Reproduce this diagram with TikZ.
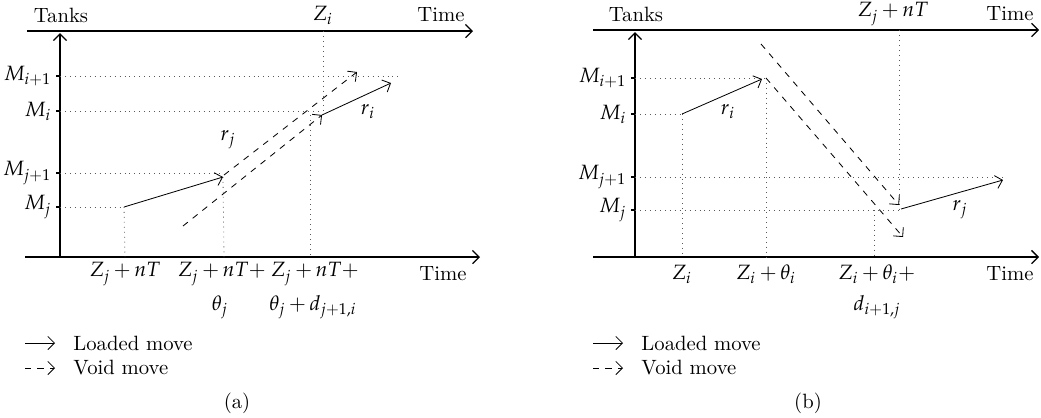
\documentclass[tikz,border=0pt]{standalone}
\usepackage{mathpazo}
\usetikzlibrary{positioning, arrows.meta}
\begin{document}
\begin{tikzpicture}[x=0.017cm, y=-0.017cm,
    >={Straight Barb[length=3.2pt, width=6.4pt]},
    axis/.style={->, semithick},
    guide/.style={dotted, gray!70!black},
    loaded/.style={->},
    void/.style={->, dashed},
    lbl/.style={inner sep=1pt},
    xlbl/.style={inner sep=1pt, execute at begin node={\medmuskip=3mu}},
    tick/.style={semithick}
]
\useasboundingbox (0,0) rectangle (1041,417);

% ---------- panel (a)
\coordinate (aTs) at (27,31);
\coordinate (aTe) at (473,31);
\coordinate (aBs) at (25,257);
\coordinate (aBe) at (480,257);
\coordinate (aO)  at (60,257);
\coordinate (aY)  at (60,33);
\draw[axis] (aTs) -- (aTe);
\draw[axis] (aBs) -- (aBe);
\draw[axis] (aO) -- (aY);

\node[lbl] (aTanks) at (61,15)  {Tanks};
\node[lbl] (aTimeT) at (441,15) {Time};
\node[lbl] (aZi)    at (323,15) {$Z_i$};
\node[lbl] (aTimeB) at (443,274) {Time};

\foreach \y/\lab/\nm in {76/M_{i+1}/aMa, 111/M_i/aMb, 173/M_{j+1}/aMc, 207/M_j/aMd}{
  \coordinate (\nm) at (60,\y);
  \draw[tick] (\nm) -- ++(-4,0) node[left, inner sep=2pt] (\nm-lab) {$\lab$};
}

\coordinate (aP1) at (124,207);
\coordinate (aP2) at (223,177);
\coordinate (aP3) at (322,115);
\coordinate (aP4) at (391,83);
\coordinate (aV1) at (183,226);
\coordinate (aV2) at (224,175);
\coordinate (aV3) at (357,72);

\coordinate (aG1) at (398,76);
\coordinate (aG2) at (322,111);
\coordinate (aG3) at (222,173);
\coordinate (aX1) at (125,257);
\coordinate (aX2) at (224,257);
\coordinate (aX3) at (310,257);
\coordinate (aX3t) at (310,115);
\coordinate (aX4) at (323,31);
\coordinate (aX4b) at (323,115);

\draw[guide] (aMa) -- (aG1);
\draw[guide] (aMb) -- (aG2);
\draw[guide] (aMc) -- (aG3);
\draw[guide] (aMd) -- (aP1);
\draw[guide] (aP1) -- (aX1);
\draw[guide] (aP2) -- (aX2);
\draw[guide] (aX3t) -- (aX3);
\draw[guide] (aX4) -- (aX4b);

\draw[loaded] (aP1) -- (aP2);
\draw[loaded] (aP3) -- (aP4);
\draw[void] (aV1) -- (aP3);
\draw[void] (aV2) -- (aV3);

\node[lbl] (aRj) at (228,140) {$r_j$};
\node[lbl] (aRi) at (368,112) {$r_i$};

\node[xlbl] (aZa)  at (125,274) {$Z_j + nT$};
\node[xlbl] (aZb)  at (222,274) {$Z_j + nT+$};
\node[xlbl] (aZbb) at (220,307) {$\theta_j$};
\node[xlbl] (aZc)  at (315,274) {$Z_j + nT+$};
\node[xlbl] (aZcc) at (313,307) {$\theta_j + d_{j+1,i}$};

\coordinate (aL1s) at (25,343);
\coordinate (aL1e) at (55,343);
\coordinate (aL2s) at (25,368);
\coordinate (aL2e) at (55,368);
\draw[loaded] (aL1s) -- (aL1e);
\draw[void] (aL2s) -- (aL2e);
\node[lbl, anchor=west] (aLoaded) at (71,343) {Loaded move};
\node[lbl, anchor=west] (aVoid)   at (71,368) {Void move};
\node[lbl] (aCap) at (237,403) {(a)};

% ---------- panel (b)
\coordinate (bTs) at (593,30);
\coordinate (bTe) at (1039,30);
\coordinate (bBs) at (593,257);
\coordinate (bBe) at (1039,257);
\coordinate (bO)  at (635,257);
\coordinate (bY)  at (635,32);
\draw[axis] (bTs) -- (bTe);
\draw[axis] (bBs) -- (bBe);
\draw[axis] (bO) -- (bY);

\node[lbl] (bTanks) at (636,14)  {Tanks};
\node[lbl] (bTimeT) at (1010,14) {Time};
\node[xlbl] (bZj)   at (893,14)  {$Z_j + nT$};
\node[lbl] (bTimeB) at (1010,274) {Time};

\foreach \y/\lab/\nm in {78/M_{i+1}/bMa, 114/M_i/bMb, 177/M_{j+1}/bMc, 210/M_j/bMd}{
  \coordinate (\nm) at (635,\y);
  \draw[tick] (\nm) -- ++(-4,0) node[left, inner sep=2pt] (\nm-lab) {$\lab$};
}

\coordinate (bP1) at (682,114);
\coordinate (bP2) at (762,79);
\coordinate (bP3) at (901,209);
\coordinate (bP4) at (1003,180);
\coordinate (bV1) at (761,44);
\coordinate (bV2) at (899,205);
\coordinate (bV3) at (766,78);
\coordinate (bV4) at (903,237);

\coordinate (bG1) at (765,78);
\coordinate (bG3) at (1003,177);
\coordinate (bX1) at (682,257);
\coordinate (bX2t) at (766,78);
\coordinate (bX2) at (766,257);
\coordinate (bX3t) at (874,210);
\coordinate (bX3) at (874,257);
\coordinate (bX4) at (899,30);
\coordinate (bX4b) at (899,210);

\draw[guide] (bMa) -- (bG1);
\draw[guide] (bMb) -- (bP1);
\draw[guide] (bMc) -- (bG3);
\draw[guide] (bMd) -- (bX4b);
\draw[guide] (bP1) -- (bX1);
\draw[guide] (bX2t) -- (bX2);
\draw[guide] (bX3t) -- (bX3);
\draw[guide] (bX4) -- (bX4b);

\draw[loaded] (bP1) -- (bP2);
\draw[loaded] (bP3) -- (bP4);
\draw[void] (bV1) -- (bV2);
\draw[void] (bV3) -- (bV4);

\node[lbl] (bRi) at (728,112) {$r_i$};
\node[lbl] (bRj) at (960,210) {$r_j$};

\node[xlbl] (bZa)  at (682,274) {$Z_i$};
\node[xlbl] (bZb)  at (766,274) {$Z_i + \theta_i$};
\node[xlbl] (bZc)  at (877,274) {$Z_i + \theta_i +$};
\node[xlbl] (bZcc) at (877,307) {$d_{i+1,j}$};

\coordinate (bL1s) at (593,343);
\coordinate (bL1e) at (623,343);
\coordinate (bL2s) at (593,368);
\coordinate (bL2e) at (623,368);
\draw[loaded] (bL1s) -- (bL1e);
\draw[void] (bL2s) -- (bL2e);
\node[lbl, anchor=west] (bLoaded) at (639,343) {Loaded move};
\node[lbl, anchor=west] (bVoid)   at (639,368) {Void move};
\node[lbl] (bCap) at (808,403) {(b)};

\end{tikzpicture}
\end{document}
